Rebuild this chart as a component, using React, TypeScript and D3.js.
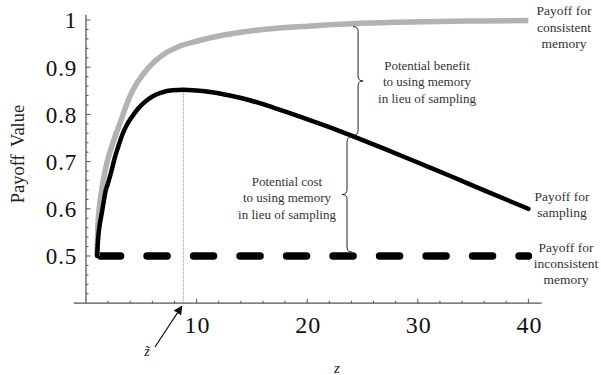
import * as d3 from 'd3';

// payoff for consistent memory (gray curve)
const zConsistent = [1, 1.03, 1.08, 1.15, 1.27, 1.42, 1.6, 1.8, 2.0, 2.3, 2.7, 3.1, 3.5, 4.0, 4.7, 5.4, 6.2, 7.2, 8.4, 10, 12, 14, 17, 20, 24, 28, 32, 36, 40];
const payoffConsistent = [0.5, 0.53, 0.565, 0.59, 0.615, 0.64, 0.665, 0.688, 0.707, 0.73, 0.758, 0.783, 0.81, 0.84, 0.87, 0.892, 0.912, 0.93, 0.944, 0.955, 0.966, 0.974, 0.982, 0.987, 0.992, 0.995, 0.997, 0.998, 0.999];

// payoff for sampling (black curve)
const zSampling = [1, 1.05, 1.11, 1.2, 1.3, 1.42, 1.6, 1.78, 2.0, 2.32, 2.6, 2.92, 3.3, 3.7, 4.1, 4.7, 5.3, 6.0, 6.8, 7.8, 8.8, 10, 11.4, 13, 14.8, 17, 19.4, 22, 24, 27, 30, 33, 36, 40];
const payoffSampling = [0.5, 0.522, 0.541, 0.56, 0.575, 0.59, 0.615, 0.638, 0.655, 0.682, 0.708, 0.732, 0.758, 0.778, 0.793, 0.812, 0.826, 0.838, 0.846, 0.851, 0.852, 0.8505, 0.847, 0.84, 0.83, 0.814, 0.795, 0.773, 0.755, 0.727, 0.698, 0.669, 0.639, 0.6];

// payoff for inconsistent memory (dashed)
const zInconsistent = [1, 40];
const payoffInconsistent = [0.5, 0.5];

const xTickLabels = [10, 20, 30, 40];
const yTickLabels = [0.5, 0.6, 0.7, 0.8, 0.9, 1];
const zTilde = 8.8;
const zBenefit = 24.6;
const zCost = 23.6;

const benefitText = ['Potential benefit', 'to using memory', 'in lieu of sampling'];
const costText = ['Potential cost', 'to using memory', 'in lieu of sampling'];
const consistentLabel = ['Payoff for', 'consistent', 'memory'];
const samplingLabel = ['Payoff for', 'sampling'];
const inconsistentLabel = ['Payoff for', 'inconsistent', 'memory'];

const width = 601;
const height = 375;
const serif = "'Liberation Serif'";
const axisColor = '#555';

const x = d3.scaleLinear().domain([0, 40]).range([86, 528.4]);
const y = d3.scaleLinear().domain([0.4, 1]).range([303.2, 20]);

const line = d3.line<[number, number]>()
    .x(d => x(d[0]))
    .y(d => y(d[1]))
    .curve(d3.curveMonotoneX);

const samplingAt = d3.scaleLinear().domain(zSampling).range(payoffSampling);
const consistentAt = d3.scaleLinear().domain(zConsistent).range(payoffConsistent);

function bracePath(bx: number, yTop: number, yBot: number, dir: number) {
    const h = 5 * dir, r = 5;
    const m = (yTop + yBot) / 2;
    return `M${bx - h},${yTop} Q${bx},${yTop} ${bx},${yTop + r} L${bx},${m - r} Q${bx},${m} ${bx + h},${m}`
        + ` Q${bx},${m} ${bx},${m + r} L${bx},${yBot - r} Q${bx},${yBot} ${bx - h},${yBot}`;
}

function TextBlock({ lines, cx, y0, size, gap = 16.3 }: { lines: string[], cx: number, y0: number, size: number, gap?: number }) {
    return <g>
        {lines.map((t, i) => <text key={i} x={cx} y={y0 + i * gap} textAnchor="middle" fill="#333"
            style={{ fontFamily: serif, fontSize: `${size}px` }}>{t}</text>)}
    </g>;
}

function App() {
    const consistent = zConsistent.map((z, i) => [z, payoffConsistent[i]] as [number, number]);
    const sampling = zSampling.map((z, i) => [z, payoffSampling[i]] as [number, number]);
    const inconsistent = zInconsistent.map((z, i) => [z, payoffInconsistent[i]] as [number, number]);

    const xTicks = d3.range(2, 41, 2);
    const yTicks = d3.range(21, 51).map(v => v / 50);
    const y0 = y(0.4);
    const x0 = x(0);

    return <svg width={width} height={height}
        style={{ position: 'absolute', left: 0, top: 0, background: '#fff' }}>
        <defs>
            <marker id="arrowhead" viewBox="0 0 10 10" refX={9} refY={5} markerWidth={9} markerHeight={9}
                markerUnits="userSpaceOnUse" orient="auto">
                <path d="M0,0 L10,5 L0,10 z" fill="#111" />
            </marker>
        </defs>

        {/* axes */}
        <line x1={x(-1.1)} x2={x(41.2)} y1={y0} y2={y0} stroke={axisColor} strokeWidth={1.3} />
        <line x1={x0} x2={x0} y1={y0} y2={y(1.011)} stroke={axisColor} strokeWidth={1.3} />
        {xTicks.map(d => <line key={d} x1={x(d)} x2={x(d)} y1={y0} y2={y0 - (d % 10 === 0 ? 4.5 : 2.5)}
            stroke={axisColor} strokeWidth={1} />)}
        {yTicks.map(d => <line key={d} x1={x0} x2={x0 + (Math.round(d * 50) % 5 === 0 ? 4.5 : 2.5)}
            y1={y(d)} y2={y(d)} stroke={axisColor} strokeWidth={1} />)}

        {xTickLabels.map(d => <text key={d} x={x(d) + 1} y={333} textAnchor="middle" fill="#111"
            style={{ fontFamily: serif, fontSize: '24px', letterSpacing: '1px' }}>{d}</text>)}
        {yTickLabels.map(d => <text key={d} x={77} y={y(d) + 8.3} textAnchor="end" fill="#111"
            style={{ fontFamily: serif, fontSize: '23px', letterSpacing: '0.8px' }}>{d}</text>)}

        <text transform="translate(23.5,154) rotate(-90)" textAnchor="middle" fill="#222"
            style={{ fontFamily: serif, fontSize: '18.5px', wordSpacing: '3px' }}>Payoff Value</text>
        <text x={337} y={373} textAnchor="middle" fill="#222"
            style={{ fontFamily: serif, fontSize: '15px', fontStyle: 'italic' }}>z</text>

        {/* z tilde marker */}
        <line x1={x(zTilde)} x2={x(zTilde)} y1={y(samplingAt(zTilde))} y2={y0}
            stroke="#888" strokeWidth={1} strokeDasharray="1,1" />
        <line x1={155} y1={347} x2={x(zTilde) - 1.5} y2={y0 + 3}
            stroke="#111" strokeWidth={1.2} markerEnd="url(#arrowhead)" />
        <text x={147} y={356} textAnchor="middle" fill="#222"
            style={{ fontFamily: serif, fontSize: '14px', fontStyle: 'italic' }}>{'z\u0303'}</text>

        {/* curves */}
        <path d={line(inconsistent) ?? ''} fill="none" stroke="#000" strokeWidth={7.5}
            strokeLinecap="round" strokeDasharray="20,26.5" strokeDashoffset={-3.5} />
        <path d={line(consistent) ?? ''} fill="none" stroke="#b2b2b2" strokeWidth={5.5} />
        <path d={line(sampling) ?? ''} fill="none" stroke="#000" strokeWidth={4.5} strokeLinecap="round" />

        {/* braces */}
        <path d={bracePath(x(zBenefit), y(consistentAt(zBenefit)) + 3, y(samplingAt(zBenefit)) - 3, 1)}
            fill="none" stroke="#222" strokeWidth={1} />
        <path d={bracePath(x(zCost), y(samplingAt(zCost)) + 3, y(0.5) - 4, -1)}
            fill="none" stroke="#222" strokeWidth={1} />

        <TextBlock lines={benefitText} cx={427} y0={70} size={13} />
        <TextBlock lines={costText} cx={287} y0={186} size={13} />
        <TextBlock lines={consistentLabel} cx={564} y0={15} size={13.5} gap={16.6} />
        <TextBlock lines={samplingLabel} cx={562} y0={201} size={13.5} />
        <TextBlock lines={inconsistentLabel} cx={566} y0={252} size={13.5} gap={16.2} />
    </svg>;
}

export default App;
